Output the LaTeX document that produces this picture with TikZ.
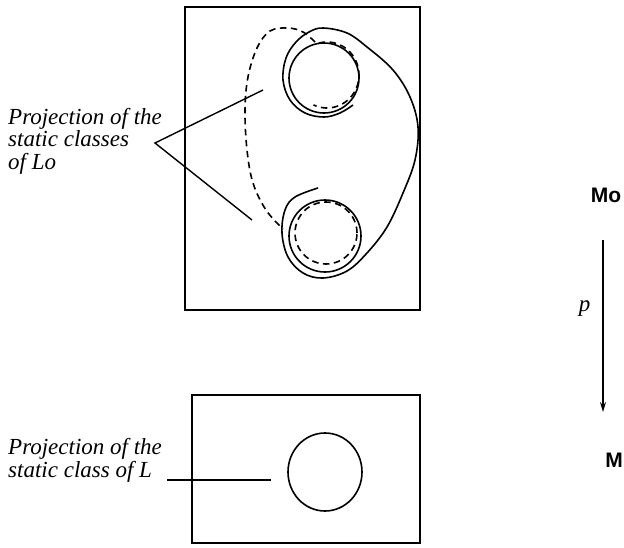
\documentclass[tikz,border=0pt]{standalone}
\usepackage{fontspec}
\setmainfont{Liberation Serif}
\newfontfamily\spaceFont{Liberation Sans}
\usepackage{tikz}
\usetikzlibrary{positioning, calc, arrows.meta}
\tikzset{
  boxFrame/.style={rectangle, draw=black, line width=2.8pt, inner sep=0pt},
  ringLine/.style={line width=1.6pt},
  dashRing/.style={line width=1.6pt, dash pattern=on 6.5pt off 4.5pt},
  leadLine/.style={line width=1.4pt},
  labelText/.style={align=left, inner sep=0pt, font=\fontsize{23}{22.5}\selectfont\itshape},
  spaceName/.style={inner sep=0pt, font=\fontsize{21}{21}\selectfont\spaceFont\bfseries},
  projArr/.style={line width=1.4pt, -{Stealth[length=10pt, width=6pt]}},
}
\begin{document}
\begin{tikzpicture}[x=1pt, y=-1pt]
\useasboundingbox (0,0) rectangle (624,547);
% frames
\node (topBox) [boxFrame, minimum width=235pt, minimum height=303pt] at (302.5,158.5) {};
\node (lowBox) [boxFrame, minimum width=228pt, minimum height=148pt] at (306,469) {};

% labels
\node (upLabel) [labelText, anchor=base west] at (8,169) {Projection of the\\static classes\\of Lo};
\node (lowLabel) [labelText, anchor=base west] at (8,477) {Projection of the\\static class of L};
\node (Mo) [spaceName] at (606,195) {Mo};
\node (M) [spaceName] at (614,460) {M};

% upper picture: two rings and the loop round them
\draw [ringLine] (324,78) circle [radius=35pt];
\draw [ringLine] (325,236) circle [radius=36pt];
\draw [dashRing] plot[smooth, domain=-105:115, samples=30] ({327+32*cos(\x)}, {75+33*sin(\x)});
\draw [dashRing] (326,233) circle [radius=31pt];
\draw [ringLine] plot[smooth, tension=0.6] coordinates {
  (353,105) (340,113) (324,117) (305,113) (290,100) (283,80) (286,58) (296,42)
  (309,32) (323,28) (347,33) (367,47) (393,70) (410,97) (418,127) (415,160)
  (403,193) (387,227) (367,253) (347,271) (323,278) (303,273) (288,257)
  (282,233) (285,210) (295,197) (318,188)};
\draw [dashRing] plot[smooth, tension=0.6] coordinates {
  (315,42) (303,32) (288,28) (270,31) (257,48) (248,77) (245,110) (247,150)
  (253,183) (266,210) (283,229)};

% leaders
\coordinate (upFoot) at (155,143);
\coordinate (upTipA) at (263,90);
\coordinate (upTipB) at (252,220);
\draw [leadLine] (upTipA) -- (upFoot) -- (upTipB);
\coordinate (lowFoot) at (167,480);
\coordinate (lowTip) at (271,480);
\draw [leadLine] (lowFoot) -- (lowTip);
\draw [ringLine] (325,472) ellipse [x radius=37pt, y radius=39pt];

% projection
\coordinate (pTop) at (603,240);
\coordinate (pBot) at (603,412);
\draw [projArr] (pTop) -- node[labelText, pos=0.4, left=12pt] {p} (pBot);
\end{tikzpicture}
\end{document}
